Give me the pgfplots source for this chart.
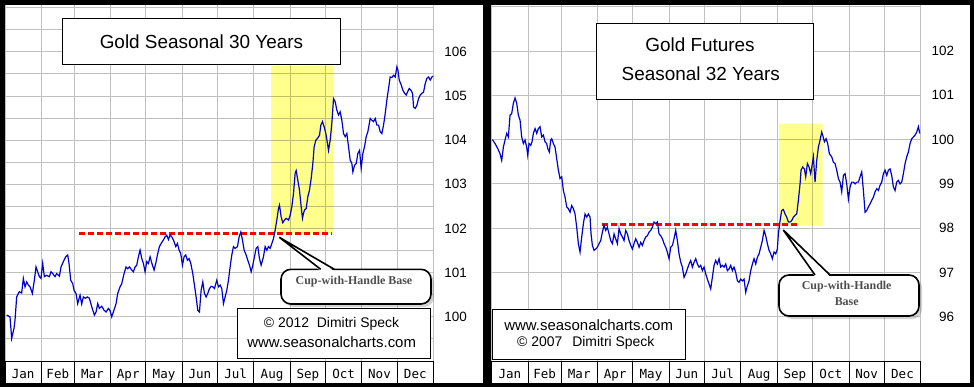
\documentclass[border=0pt]{standalone}
\usepackage{pgfplots}
\pgfplotsset{compat=1.18}
\usepackage{fontspec}
\setmainfont{Liberation Sans}
\newfontfamily\monofont{DejaVu Sans Mono}
\newfontfamily\seriffont{Liberation Serif}
\usetikzlibrary{shadows}
\definecolor{curveblue}{RGB}{0,0,205}
\definecolor{hl}{RGB}{255,255,140}
\definecolor{gridgray}{RGB}{192,192,192}
\definecolor{calltext}{RGB}{77,77,77}
\pgfplotsset{
  panel/.style={
    scale only axis, width=428.5bp, height=356bp, anchor=south west,
    xmin=0, xmax=365,
    axis line style={draw=none},
    xtick={15.5,45,74.5,105,135.5,166,196.5,227.5,258,288.5,319,349.5},
    xticklabels={Jan,Feb,Mar,Apr,May,Jun,Jul,Aug,Sep,Oct,Nov,Dec},
    minor xtick={0,31,59,90,120,151,181,212,243,273,304,334,365},
    xtick pos=left, xtick align=outside,
    ytick pos=right, yticklabel pos=right,
    major tick length=0pt, minor tick length=22bp,
    minor tick style={black, line width=0.9bp},
    xmajorgrids=false, xminorgrids=true, ymajorgrids=true,
    major grid style={gridgray, line width=0.9bp},
    minor grid style={gridgray, line width=0.9bp},
    xticklabel style={font=\monofont\fontsize{12.6}{14}\selectfont, anchor=base, yshift=-17.3bp},
    yticklabel style={font=\fontsize{13.5}{15}\selectfont, anchor=east, inner sep=0pt, xshift=33.6bp},
  }
}
\begin{document}
\begin{tikzpicture}[x=1bp,y=1bp]
\useasboundingbox (0,0) rectangle (974,387);
\fill[black] (0,0) rectangle (974,387);
\fill[white] (5,3.7) rectangle (483.3,382);
\fill[white] (491.7,3.7) rectangle (970,382);

% ---------------- left panel ----------------
\begin{axis}[panel, at={(5bp,26bp)},
  ymin=99.0, ymax=107.06,
  ytick={99.5,100,...,107},
  yticklabels={,100,,101,,102,,103,,104,,105,,106,,},
]
\addplot[fill=hl, draw=none, blend mode=multiply] coordinates {(226.7,101.89) (279.2,101.89) (279.2,105.68) (226.7,105.68) (226.7,101.89)};
\addplot[red, line width=2.4bp, dash pattern=on 6bp off 3bp] coordinates {(63.4,101.89) (278.9,101.89)};
\addplot[curveblue, line width=1.2bp, mark=none] coordinates {
(1.42,100.04) (4.26,100.00) (5.68,99.51) (7.67,99.74) (8.52,99.92) (9.94,100.45) (12.22,100.57) (14.21,100.54) (15.63,100.87) (17.05,100.68) (18.47,100.79) (19.89,100.72) (21.31,100.68) (23.30,100.53) (25.00,100.83) (26.42,101.13) (27.84,101.02) (29.26,100.91) (30.68,100.87) (32.10,101.21) (33.52,100.91) (35.51,100.94) (37.78,100.91) (39.20,101.02) (40.63,100.98) (42.61,100.91) (44.03,100.98) (46.31,100.92) (47.73,101.13) (49.72,101.25) (51.70,101.36) (53.41,101.40) (54.54,101.21) (55.96,100.83) (57.67,100.75) (58.81,100.60) (60.51,100.53) (61.93,100.30) (63.92,100.49) (65.34,100.29) (66.76,100.45) (68.47,100.42) (70.17,100.45) (71.88,100.42) (73.86,100.23) (76.14,100.04) (77.56,100.11) (78.98,100.30) (80.40,100.19) (82.39,100.24) (84.38,100.15) (86.08,100.11) (88.07,100.19) (89.49,100.14) (90.91,100.00) (92.33,100.11) (94.60,100.30) (96.02,100.53) (98.01,100.68) (99.43,100.75) (101.42,100.98) (103.12,101.13) (104.55,101.09) (105.97,101.13) (107.95,101.06) (109.37,101.02) (110.80,101.13) (112.22,101.17) (113.64,101.36) (115.06,101.51) (116.48,101.32) (117.90,101.21) (119.32,101.02) (120.74,101.25) (122.16,101.21) (123.58,101.36) (125.57,101.17) (126.99,101.06) (128.41,101.21) (129.83,101.40) (131.54,101.59) (132.96,101.66) (134.94,101.74) (136.36,101.81) (137.79,101.85) (139.21,101.75) (140.63,101.85) (142.05,101.81) (143.47,101.74) (145.46,101.59) (146.88,101.66) (148.30,101.51) (149.72,101.43) (151.14,101.17) (152.56,101.36) (153.98,101.40) (155.40,101.28) (156.82,101.32) (158.24,101.21) (159.94,100.98) (161.36,100.72) (162.79,100.45) (164.21,100.15) (165.63,100.11) (167.05,100.60) (168.47,100.79) (169.89,100.53) (171.31,100.45) (172.73,100.53) (174.15,100.64) (175.57,100.69) (176.99,100.68) (178.41,100.64) (180.40,100.83) (181.82,100.68) (183.24,100.72) (184.66,100.64) (186.08,100.30) (187.50,100.45) (188.92,100.60) (190.34,100.83) (191.76,101.13) (193.18,101.40) (194.60,101.59) (196.02,101.55) (198.01,101.59) (199.43,101.81) (200.85,101.92) (202.27,101.74) (203.69,101.51) (205.40,101.40) (206.82,101.28) (208.24,101.17) (209.66,101.02) (211.08,101.17) (212.50,101.36) (213.92,101.55) (215.34,101.59) (216.76,101.32) (218.18,101.17) (220.17,101.36) (221.59,101.59) (223.01,101.51) (224.43,101.59) (225.85,101.55) (227.27,101.66) (228.69,101.77) (230.11,101.96) (231.53,102.19) (232.95,102.45) (233.81,102.53) (235.23,102.26) (236.65,102.13) (238.07,102.19) (239.49,102.23) (241.48,102.19) (242.90,102.30) (244.32,102.49) (245.74,102.79) (247.16,103.25) (248.01,103.31) (249.43,103.09) (250.85,102.87) (252.27,102.49) (253.41,102.23) (254.26,102.34) (255.11,102.42) (256.53,102.45) (257.95,102.72) (259.37,102.87) (260.79,103.13) (262.22,103.47) (263.35,103.85) (264.77,104.00) (266.19,104.04) (267.90,104.11) (269.03,104.34) (270.45,104.42) (271.87,104.30) (273.29,104.15) (274.71,103.92) (275.57,103.77) (276.99,104.00) (278.41,104.38) (279.83,104.94) (281.25,104.87) (282.67,104.68) (284.09,104.57) (285.51,104.64) (286.93,104.45) (288.35,104.15) (289.77,104.08) (291.19,104.15) (292.61,103.85) (294.03,103.55) (295.45,103.47) (296.31,103.28) (297.73,103.43) (299.15,103.47) (300.57,103.70) (301.99,103.77) (303.41,103.36) (304.83,103.70) (306.25,103.85) (307.67,104.08) (309.09,104.19) (311.08,104.49) (312.50,104.45) (313.92,104.42) (315.34,104.49) (316.76,104.34) (318.18,104.34) (319.60,104.19) (321.02,104.15) (322.44,104.34) (323.86,104.60) (325.28,104.91) (326.70,105.17) (328.12,105.43) (329.54,105.42) (330.97,105.47) (332.39,105.43) (333.81,105.66) (334.66,105.59) (335.80,105.36) (337.50,105.25) (338.92,105.13) (340.34,105.06) (341.76,105.02) (342.90,105.09) (344.32,105.17) (345.74,105.13) (347.16,105.06) (348.01,104.75) (349.43,104.72) (350.85,104.79) (352.27,104.94) (353.69,105.02) (355.11,105.06) (356.53,105.09) (357.95,105.28) (359.37,105.40) (360.79,105.43) (362.22,105.36) (363.64,105.43) (364.49,105.45)
};
\draw[black, line width=1bp] (rel axis cs:0,0) -- (rel axis cs:1,0);
\end{axis}

% ---------------- right panel ----------------
\begin{axis}[panel, at={(491.7bp,26bp)}, width=429bp,
  ymin=95.0, ymax=103.04,
  ytick={96,...,103},
  yticklabels={96,97,98,99,100,101,102,},
]
\addplot[fill=hl, draw=none, blend mode=multiply] coordinates {(244.5,98.06) (281.6,98.06) (281.6,100.36) (244.5,100.36) (244.5,98.06)};
\addplot[red, line width=2.4bp, dash pattern=on 6bp off 3bp] coordinates {(93.6,98.08) (260.9,98.08)};
\addplot[curveblue, line width=1.2bp, mark=none] coordinates {
(0.57,100.00) (2.84,99.91) (5.10,99.80) (7.09,99.68) (8.51,99.53) (9.93,99.83) (11.34,99.99) (12.76,100.14) (14.18,100.06) (15.60,100.55) (17.02,100.59) (18.43,100.82) (19.85,100.94) (21.27,100.82) (22.69,100.55) (24.11,100.44) (25.52,100.06) (26.94,99.91) (28.36,99.99) (29.78,99.83) (30.63,99.65) (31.76,99.91) (33.18,99.87) (34.32,99.95) (35.45,100.14) (36.87,100.25) (38.29,100.14) (39.70,100.25) (41.12,100.29) (42.54,100.06) (43.96,100.10) (45.38,99.95) (46.80,99.91) (47.65,99.80) (49.06,99.72) (50.20,99.99) (51.05,100.02) (52.47,99.91) (53.89,99.83) (55.30,99.57) (56.72,99.31) (58.14,99.12) (59.56,99.16) (60.98,98.85) (62.40,98.70) (63.81,98.48) (65.23,98.44) (66.65,98.36) (68.07,98.51) (69.49,98.44) (70.90,98.32) (72.32,98.02) (73.74,97.65) (75.16,97.46) (76.58,97.80) (77.99,98.10) (79.41,98.32) (80.83,98.25) (82.25,98.32) (83.67,98.25) (84.52,97.87) (85.65,97.61) (87.07,97.50) (88.49,97.53) (89.91,97.57) (91.32,97.65) (92.74,97.72) (94.16,97.91) (95.58,98.06) (97.00,97.95) (98.41,98.02) (99.83,97.87) (101.25,97.72) (102.67,97.65) (104.09,97.87) (105.50,97.76) (106.92,97.65) (108.34,97.99) (109.76,97.87) (111.18,97.80) (112.59,97.72) (114.01,97.95) (115.43,97.87) (116.85,97.72) (118.27,97.61) (119.68,97.53) (121.10,97.65) (122.52,97.76) (123.94,97.68) (125.36,97.57) (126.77,97.68) (128.19,97.61) (129.61,97.72) (131.03,97.80) (132.45,97.83) (133.86,97.91) (135.28,97.95) (136.70,98.02) (138.12,98.14) (139.54,98.10) (140.95,98.14) (142.37,97.87) (143.79,97.83) (145.21,97.76) (146.63,97.65) (148.04,97.57) (149.46,97.46) (150.88,97.31) (152.30,97.57) (153.72,97.61) (155.13,97.76) (156.55,97.95) (157.97,97.72) (159.39,97.42) (160.81,97.23) (162.22,97.12) (163.64,96.89) (165.06,96.97) (166.48,97.08) (167.90,97.19) (169.31,97.27) (170.73,97.12) (172.15,97.23) (173.57,97.31) (174.99,97.19) (176.40,97.12) (177.82,97.16) (179.24,97.04) (180.66,97.12) (182.08,96.97) (183.49,96.85) (184.91,96.74) (186.33,96.63) (187.75,96.89) (189.17,97.16) (190.58,97.27) (192.00,97.19) (193.42,97.31) (194.84,97.12) (196.26,97.16) (197.67,97.12) (199.09,97.19) (200.51,97.04) (201.93,97.08) (203.35,97.16) (204.76,97.04) (206.18,97.12) (207.60,97.00) (209.02,96.81) (210.44,96.78) (211.85,96.85) (213.27,96.81) (214.69,96.85) (216.11,96.55) (217.53,96.70) (218.94,96.81) (220.36,97.04) (221.78,97.19) (223.20,97.31) (224.62,97.19) (226.03,97.34) (227.45,97.42) (228.87,97.57) (230.29,97.72) (231.71,97.95) (233.12,97.83) (234.54,97.65) (235.96,97.50) (237.38,97.42) (238.80,97.31) (240.21,97.46) (241.63,97.42) (243.05,97.53) (243.90,97.87) (245.32,98.17) (246.74,98.40) (248.16,98.42) (249.58,98.32) (250.99,98.25) (252.41,98.14) (253.83,98.14) (255.25,98.17) (256.67,98.25) (258.08,98.29) (259.50,98.32) (260.92,98.63) (262.34,99.00) (263.19,99.31) (264.61,99.38) (266.03,99.34) (267.16,99.16) (268.58,99.46) (270.00,99.38) (271.42,99.23) (272.83,99.46) (273.69,99.61) (275.10,99.04) (276.52,99.53) (277.94,99.83) (279.36,99.99) (280.78,100.17) (281.63,100.10) (283.05,99.95) (284.46,100.02) (285.88,99.91) (287.30,99.68) (289.29,99.61) (290.70,99.49) (292.12,99.46) (293.54,99.31) (294.96,99.12) (296.38,99.04) (297.79,98.82) (299.21,99.19) (300.63,99.23) (302.05,99.00) (303.47,98.66) (304.88,98.93) (306.30,99.04) (307.72,99.04) (309.14,99.00) (310.56,99.04) (311.97,99.04) (313.39,99.16) (314.81,99.27) (316.23,98.85) (317.65,98.36) (319.06,98.40) (320.48,98.48) (321.90,98.55) (323.32,98.63) (324.74,98.70) (326.15,98.82) (327.57,98.89) (328.99,98.85) (330.41,98.97) (331.83,99.04) (333.24,99.23) (334.66,99.31) (336.08,99.19) (337.50,99.31) (338.92,99.34) (340.33,99.19) (341.75,98.93) (343.17,98.85) (344.59,99.04) (346.01,99.08) (347.42,99.00) (348.84,99.04) (350.26,99.23) (351.68,99.46) (353.10,99.61) (354.51,99.72) (355.93,99.91) (357.35,100.02) (358.77,100.06) (360.19,100.10) (361.60,100.17) (363.02,100.29) (364.16,100.14)
};
\draw[black, line width=1bp] (rel axis cs:0,0) -- (rel axis cs:1,0);
\end{axis}

% ---------------- annotations: left ----------------
\draw[fill=white, line width=1bp] (62.3,322.7) rectangle (340.7,368.7);
\node[font=\fontsize{19}{22}\selectfont] at (201.5,345.7) {Gold Seasonal 30 Years};
\draw[fill=white, line width=1bp] (237.3,28.7) rectangle (430.7,78.7);
\node[font=\fontsize{14}{16}\selectfont] at (331.5,63) {© 2012\ \ Dimitri Speck};
\node[font=\fontsize{15}{17}\selectfont] at (331.7,44.7) {www.seasonalcharts.com};
\draw[fill=white, line width=1.6bp, rounded corners=10bp,
  drop shadow={shadow xshift=3bp, shadow yshift=-3bp, opacity=0.35}] (281,83) rectangle (431,117.7);
\fill[white] (320.7,116) -- (279.3,149.7) -- (334.3,116) -- cycle;
\draw[line width=1.6bp] (320.7,117.7) -- (279.3,149.7) -- (334.3,117.7);
\node[font=\seriffont\bfseries\fontsize{12}{14}\selectfont, text=calltext] at (354,105.3) {Cup-with-Handle Base};

% ---------------- annotations: right ----------------
\draw[fill=white, line width=1bp] (596,287.7) rectangle (813.3,363.7);
\node[font=\fontsize{19}{22}\selectfont] at (700,342) {Gold Futures};
\node[font=\fontsize{19}{22}\selectfont] at (700.8,313) {Seasonal 32 Years};
\draw[fill=white, line width=1bp] (492.3,27.7) rectangle (685.7,77.7);
\node[font=\fontsize{15}{17}\selectfont] at (588.7,62) {www.seasonalcharts.com};
\node[font=\fontsize{14}{16}\selectfont] at (585.8,43.7) {© 2007\hspace{10bp}Dimitri Speck};
\draw[fill=white, line width=1.6bp, rounded corners=10bp,
  drop shadow={shadow xshift=3bp, shadow yshift=-3bp, opacity=0.35}] (779,71) rectangle (919,112);
\fill[white] (815,110.3) -- (783.3,157) -- (830,110.3) -- cycle;
\draw[line width=1.6bp] (815,112) -- (783.3,157) -- (830,112);
\node[font=\seriffont\bfseries\fontsize{12}{14}\selectfont, text=calltext] at (846.7,100.3) {Cup-with-Handle};
\node[font=\seriffont\bfseries\fontsize{12}{14}\selectfont, text=calltext] at (846.7,85.3) {Base};
\end{tikzpicture}
\end{document}
